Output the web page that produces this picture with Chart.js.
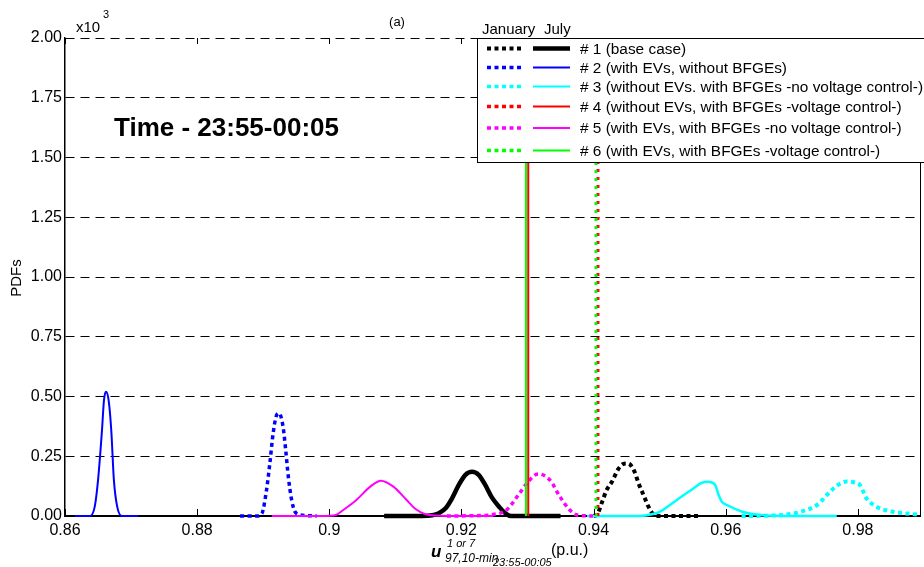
<!DOCTYPE html>
<html>
<head>
<meta charset="utf-8">
<script src="https://cdn.jsdelivr.net/npm/chart.js@4.4.1/dist/chart.umd.min.js"></script>
<style>
  html, body { margin: 0; padding: 0; background: #fff; }
  canvas { display: block; }
</style>
</head>
<body>
<canvas id="pdfChart" width="924" height="567"></canvas>
<script>
const FONT = 'Arial, "Liberation Sans", sans-serif';

const caseNames = [
  '# 1 (base case)',
  '# 2 (with EVs, without BFGEs)',
  '# 3 (without EVs. with BFGEs -no voltage control-)',
  '# 4 (without EVs, with BFGEs -voltage control-)',
  '# 5 (with EVs, with BFGEs -no voltage control-)',
  '# 6 (with EVs, with BFGEs -voltage control-)'
];
const caseColors = ['#000000', '#0000ff', '#00ffff', '#ff0000', '#ff00ff', '#00ff00'];
const xTicks = [0.86, 0.88, 0.9, 0.92, 0.94, 0.96, 0.98];
const yTicks = [0, 0.25, 0.5, 0.75, 1, 1.25, 1.5, 1.75, 2];

// voltage (p.u.) vs PDF (x10^3); jan = dotted, jul = solid
const jan1X = [0.9400, 0.9405, 0.9413, 0.9420, 0.9428, 0.9437, 0.9445, 0.9450, 0.9455, 0.9462, 0.9468, 0.9476, 0.9483, 0.9490, 0.9495, 0.9520, 0.9558];
const jan1Y = [0, 0.005, 0.06, 0.11, 0.144, 0.195, 0.218, 0.22, 0.216, 0.185, 0.137, 0.085, 0.039, 0.008, 0, 0, 0];
const jul1X = [0.9083, 0.9140, 0.9156, 0.9166, 0.9176, 0.9186, 0.9196, 0.9206, 0.9216, 0.9226, 0.9236, 0.9246, 0.9257, 0.9267, 0.9275, 0.9300, 0.9350];
const jul1Y = [0, 0, 0.003, 0.012, 0.032, 0.075, 0.13, 0.172, 0.185, 0.172, 0.13, 0.078, 0.039, 0.01, 0, 0, 0];

const jan2X = [0.8865, 0.8890, 0.8898, 0.8905, 0.8910, 0.8915, 0.8920, 0.8924, 0.8930, 0.8934, 0.8938, 0.8943, 0.8948, 0.8956, 0.8981];
const jan2Y = [0, 0, 0.011, 0.109, 0.22, 0.346, 0.42, 0.43, 0.374, 0.276, 0.164, 0.067, 0.018, 0.005, 0];
const jul2X = [0.8615, 0.8638, 0.8645, 0.8650, 0.8656, 0.8659, 0.8662, 0.8666, 0.8670, 0.8674, 0.8679, 0.8686, 0.8711];
const jul2Y = [0, 0, 0.039, 0.15, 0.36, 0.485, 0.52, 0.485, 0.36, 0.15, 0.039, 0, 0];

const jan3X = [0.9624, 0.9680, 0.9712, 0.9738, 0.9758, 0.9770, 0.9783, 0.9795, 0.9803, 0.9813, 0.9828, 0.9853, 0.9894];
const jan3Y = [0, 0.003, 0.017, 0.046, 0.102, 0.13, 0.144, 0.14, 0.13, 0.074, 0.039, 0.018, 0.005];
const jul3X = [0.9390, 0.9470, 0.9490, 0.9500, 0.9515, 0.9530, 0.9550, 0.9563, 0.9574, 0.9584, 0.9589, 0.9594, 0.9602, 0.9626, 0.9652, 0.9700, 0.9768];
const jul3Y = [0, 0, 0.008, 0.017, 0.045, 0.075, 0.113, 0.138, 0.143, 0.13, 0.09, 0.06, 0.046, 0.017, 0.004, 0, 0];

const jan4X = [0.94066, 0.94066];
const jan4Y = [0, 2.4];
const jul4X = [0.93011, 0.93011];
const jul4Y = [0, 2.4];

const jan5X = [0.9178, 0.9228, 0.9248, 0.9268, 0.9288, 0.9300, 0.9316, 0.9334, 0.9349, 0.9364, 0.9375, 0.9399];
const jan5Y = [0, 0.002, 0.006, 0.025, 0.095, 0.14, 0.176, 0.15, 0.081, 0.025, 0.004, 0];
const jul5X = [0.8913, 0.8990, 0.9010, 0.9021, 0.9041, 0.9062, 0.9078, 0.9097, 0.9117, 0.9130, 0.9145, 0.9160, 0.9200, 0.9248];
const jul5Y = [0, 0, 0.004, 0.025, 0.067, 0.123, 0.148, 0.123, 0.067, 0.03, 0.008, 0.002, 0, 0];

const jan6X = [0.94036, 0.94036];
const jan6Y = [0, 2.4];
const jul6X = [0.92976, 0.92976];
const jul6Y = [0, 2.4];

function pts(xs, ys) {
  return xs.map((x, i) => ({ x: x, y: ys[i] }));
}

// let the flat tails sit on top of the x axis instead of being cut in half
const CLIP = { left: 1, top: 0, right: 1, bottom: 5 };

function dotted(xs, ys, color, order, w) {
  return {
    data: pts(xs, ys), borderColor: color, borderWidth: w || 4,
    borderDash: [4, 3.5], borderCapStyle: 'butt', clip: CLIP,
    pointRadius: 0, cubicInterpolationMode: 'monotone', order: order
  };
}
function solid(xs, ys, color, order, w) {
  return {
    data: pts(xs, ys), borderColor: color, borderWidth: w || 2, clip: CLIP,
    pointRadius: 0, cubicInterpolationMode: 'monotone', order: order
  };
}
function spike(xs, ys, color, order, dash) {
  return {
    data: pts(xs, ys), borderColor: color, borderWidth: dash ? 3 : 2,
    borderDash: dash ? [3, 5] : [], borderDashOffset: dash && color === '#00ff00' ? 1 : 0,
    pointRadius: 0, tension: 0, order: order
  };
}

const datasets = [
  solid(jul1X, jul1Y, caseColors[0], 12, 4.5),
  dotted(jan1X, jan1Y, caseColors[0], 11, 4),
  solid(jul2X, jul2Y, caseColors[1], 10, 2),
  dotted(jan2X, jan2Y, caseColors[1], 9, 3.5),
  solid(jul3X, jul3Y, caseColors[2], 8, 2.5),
  dotted(jan3X, jan3Y, caseColors[2], 7, 4),
  solid(jul5X, jul5Y, caseColors[4], 6, 2),
  dotted(jan5X, jan5Y, caseColors[4], 5, 3.5),
  spike(jul4X, jul4Y, caseColors[3], 4, false),
  spike(jan4X, jan4Y, caseColors[3], 3, true),
  spike(jul6X, jul6Y, caseColors[5], 2, false),
  spike(jan6X, jan6Y, caseColors[5], 1, true)
];

function line(ctx, x1, y1, x2, y2) {
  ctx.beginPath();
  ctx.moveTo(x1, y1);
  ctx.lineTo(x2, y2);
  ctx.stroke();
}

// tick marks, right border, legend and the free text
const decor = {
  id: 'decor',
  afterDraw(chart) {
    const ctx = chart.ctx;
    const a = chart.chartArea;
    const xs = chart.scales.x;
    ctx.save();

    ctx.strokeStyle = '#000';
    ctx.lineWidth = 1;
    xTicks.forEach(v => {
      const px = Math.round(xs.getPixelForValue(v)) + 0.5;
      line(ctx, px, a.bottom - 1, px, a.bottom - 7);
      line(ctx, px, a.top, px, a.top + 6);
    });
    line(ctx, a.right + 0.5, a.top, a.right + 0.5, a.bottom);

    // legend box
    const lb = { left: 477, top: 38, right: 940, bottom: 162 };
    ctx.fillStyle = '#fff';
    ctx.fillRect(lb.left, lb.top, lb.right - lb.left, lb.bottom - lb.top);
    ctx.strokeStyle = '#000';
    ctx.lineWidth = 1;
    ctx.strokeRect(lb.left + 0.5, lb.top + 0.5, lb.right - lb.left, lb.bottom - lb.top);

    const rowY = [48.5, 67.5, 86.5, 106.5, 128, 150.5];
    ctx.font = '15.4px ' + FONT;
    ctx.textBaseline = 'middle';
    caseNames.forEach((name, i) => {
      const y = rowY[i];
      ctx.strokeStyle = caseColors[i];
      ctx.lineWidth = i === 0 ? 4 : 3.5;
      ctx.setLineDash([4, 3.5]);
      line(ctx, 487, y, 523, y);
      ctx.setLineDash([]);
      ctx.lineWidth = i === 0 ? 4.5 : 2;
      line(ctx, 533, y, 570, y);
      ctx.fillStyle = '#000';
      ctx.textAlign = 'left';
      ctx.fillText(name, 580, y + 1);
    });
    ctx.font = '15px ' + FONT;
    ctx.textAlign = 'left';
    ctx.fillText('January', 482, 30);
    ctx.fillText('July', 544, 30);

    // headings
    ctx.font = '13px ' + FONT;
    ctx.textAlign = 'center';
    ctx.fillText('(a)', 397, 22);
    ctx.textAlign = 'left';
    ctx.font = '15px ' + FONT;
    ctx.textBaseline = 'alphabetic';
    ctx.fillText('x10', 76, 32);
    ctx.font = '11px ' + FONT;
    ctx.fillText('3', 103, 18);

    ctx.font = 'bold 26px ' + FONT;
    ctx.textBaseline = 'middle';
    ctx.fillText('Time - 23:55-00:05', 114, 129);

    // y axis title
    ctx.save();
    ctx.translate(17, 278);
    ctx.rotate(-Math.PI / 2);
    ctx.textAlign = 'center';
    ctx.font = '15px ' + FONT;
    ctx.fillText('PDFs', 0, 0);
    ctx.restore();

    // x axis title
    ctx.textBaseline = 'alphabetic';
    ctx.textAlign = 'left';
    ctx.font = 'italic bold 17px ' + FONT;
    ctx.fillText('u', 431, 557);
    ctx.font = 'italic 11px ' + FONT;
    ctx.fillText('1 or 7', 447, 547);
    ctx.font = 'italic 12px ' + FONT;
    ctx.fillText('97,10-min', 445, 562);
    ctx.font = 'italic 11px ' + FONT;
    ctx.fillText('23:55-00:05', 493, 566);
    ctx.font = '16px ' + FONT;
    ctx.fillText('(p.u.)', 551, 555);

    ctx.restore();
  }
};

new Chart(document.getElementById('pdfChart'), {
  type: 'line',
  data: { datasets: datasets },
  options: {
    responsive: false,
    animation: false,
    events: [],
    layout: { padding: { top: 38, right: 4, left: 0, bottom: 0 } },
    plugins: { legend: { display: false }, tooltip: { enabled: false } },
    scales: {
      x: {
        type: 'linear', min: 0.86, max: 0.9894,
        afterFit: s => { s.height = 51; },
        afterBuildTicks: s => { s.ticks = xTicks.map(v => ({ value: v })); },
        grid: { display: false, drawTicks: false },
        border: { display: true, color: '#000', width: 2 },
        ticks: {
          padding: 5, color: '#000', maxRotation: 0, autoSkip: false,
          font: { family: FONT, size: 16 },
          callback: v => String(Math.round(v * 100) / 100)
        }
      },
      y: {
        type: 'linear', min: 0, max: 2,
        afterFit: s => { s.width = 65; },
        afterBuildTicks: s => { s.ticks = yTicks.map(v => ({ value: v })); },
        grid: { color: '#000', lineWidth: 1, drawTicks: false },
        border: { display: true, color: '#000', width: 1.5, dash: [9, 6] },
        ticks: {
          padding: 3, color: '#000',
          font: { family: FONT, size: 16 },
          callback: v => v.toFixed(2)
        }
      }
    }
  },
  plugins: [decor]
});
</script>
</body>
</html>
